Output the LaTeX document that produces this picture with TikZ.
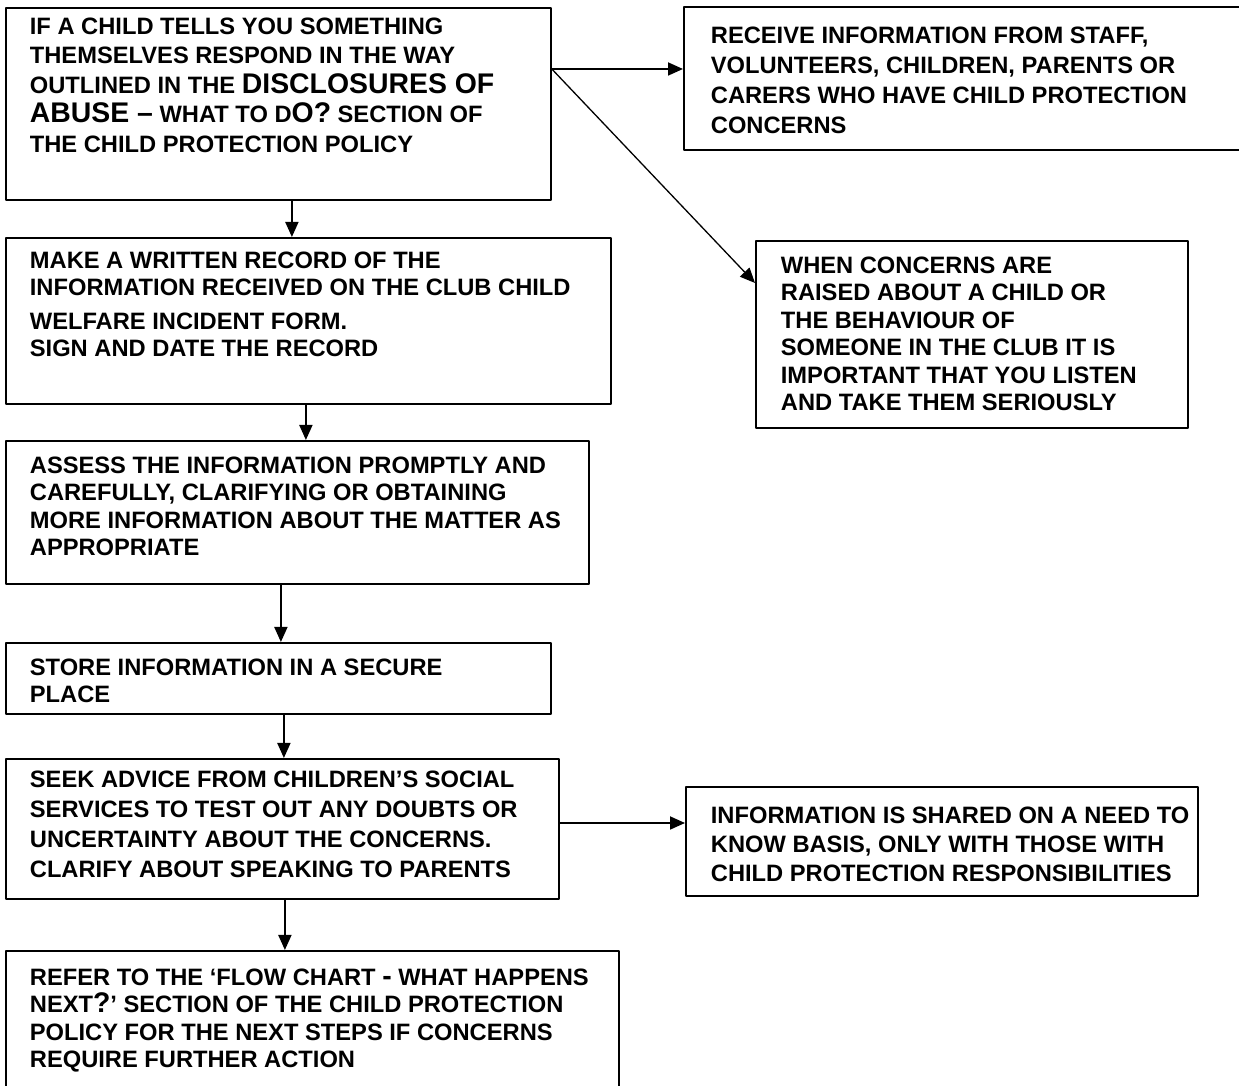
\documentclass[tikz,border=0pt]{standalone}
\usepackage{fontspec}
\setmainfont{Liberation Sans}[BoldFont={* Bold}]
\usetikzlibrary{arrows.meta}

\newcommand{\boxtext}[4][24bp]{\parbox[t][#3][t]{#2}{\raggedright\leftskip=#1 #4}}
\newcommand{\bigger}[1]{{\fontsize{28.4bp}{30bp}\selectfont #1}}

\begin{document}
\begin{tikzpicture}[>={Triangle[length=15bp,width=13bp]},line join=bevel,
  flow/.style={draw,rectangle,anchor=north west,inner xsep=0pt,inner ysep=#1,line width=1.8bp,
    font=\bfseries\fontsize{23.7bp}{27.4bp}\selectfont},
  flow/.default=14bp,
  wide/.style={font=\bfseries\fontsize{23.7bp}{30bp}\selectfont},
  link/.style={->,line width=1.8bp}]
\useasboundingbox (0,0) rectangle (1239bp,1086bp);
%%
\node (tell) at (5bp,1079bp) [flow=10bp,font=\bfseries\fontsize{23.7bp}{29.5bp}\selectfont] {\boxtext{545bp}{172bp}{IF A CHILD TELLS YOU SOMETHING\\
  THEMSELVES RESPOND IN THE WAY\\
  OUTLINED IN THE \bigger{DISCLOSURES OF}\\
  \bigger{ABUSE --} WHAT TO D\bigger{O?} SECTION OF\\
  THE CHILD PROTECTION POLICY}};
  \node (record) at (5bp,849bp) [flow=14bp] {\boxtext{605bp}{138bp}{MAKE A WRITTEN RECORD OF THE\\
  INFORMATION RECEIVED ON THE CLUB CHILD\\[6bp]
  WELFARE INCIDENT FORM.\\
  SIGN AND DATE THE RECORD}};
  \node (assess) at (5bp,646bp) [flow=16bp] {\boxtext{583bp}{111bp}{ASSESS THE INFORMATION PROMPTLY AND\\
  CAREFULLY, CLARIFYING OR OBTAINING\\
  MORE INFORMATION ABOUT THE MATTER AS\\
  APPROPRIATE}};
  \node (store) at (5bp,444bp) [flow=16bp] {\boxtext{545bp}{39bp}{STORE INFORMATION IN A SECURE\\
  PLACE}};
  \node (advice) at (5bp,328bp) [flow=12bp,wide] {\boxtext{553bp}{116bp}{SEEK ADVICE FROM CHILDREN'S SOCIAL\\
  SERVICES TO TEST OUT ANY DOUBTS OR\\
  UNCERTAINTY ABOUT THE CONCERNS.\\
  CLARIFY ABOUT SPEAKING TO PARENTS}};
  \node (refer) at (5bp,136bp) [flow=18bp] {\boxtext{613bp}{190bp}{REFER TO THE `FLOW CHART \bigger{-} WHAT HAPPENS\\
  NEXT\bigger{?}' SECTION OF THE CHILD PROTECTION\\
  POLICY FOR THE NEXT STEPS IF CONCERNS\\
  REQUIRE FURTHER ACTION}};
  \node (receive) at (683bp,1080bp) [flow=20bp,wide] {\boxtext[27bp]{566bp}{103bp}{RECEIVE INFORMATION FROM STAFF,\\
  VOLUNTEERS, CHILDREN, PARENTS OR\\
  CARERS WHO HAVE CHILD PROTECTION\\
  CONCERNS}};
  \node (concern) at (755bp,846bp) [flow=16bp] {\boxtext[25bp]{432bp}{155bp}{WHEN CONCERNS ARE\\
  RAISED ABOUT A CHILD OR\\
  THE BEHAVIOUR OF\\
  SOMEONE IN THE CLUB IT IS\\
  IMPORTANT THAT YOU LISTEN\\
  AND TAKE THEM SERIOUSLY}};
  \node (shared) at (685bp,300bp) [flow=20bp,font=\bfseries\fontsize{23.7bp}{29bp}\selectfont] {\boxtext[25bp]{512bp}{69bp}{INFORMATION IS SHARED ON A NEED TO\\
  KNOW BASIS, ONLY WITH THOSE WITH\\
  CHILD PROTECTION RESPONSIBILITIES}};
%%
  \coordinate (fork) at ([yshift=-62bp]tell.north east);
  \coordinate (side) at ([yshift=-65bp]advice.north east);
  \draw [link] (fork) -- (fork -| receive.west);
  \draw [->,line width=1.3bp] (fork) -- ([yshift=-43bp]concern.north west);
  \draw [link] ([xshift=13.5bp]tell.south) -- ([xshift=13.5bp]tell.south |- record.north);
  \draw [link] ([xshift=-2.5bp]record.south) -- ([xshift=-2.5bp]record.south |- assess.north);
  \draw [link] ([xshift=-16.5bp]assess.south) -- ([xshift=-16.5bp]assess.south |- store.north);
  \draw [link] ([xshift=5.5bp]store.south) -- ([xshift=5.5bp]store.south |- advice.north);
  \draw [link] ([xshift=2.5bp]advice.south) -- ([xshift=2.5bp]advice.south |- refer.north);
  \draw [link] (side) -- (side -| shared.west);
%
\end{tikzpicture}
\end{document}
